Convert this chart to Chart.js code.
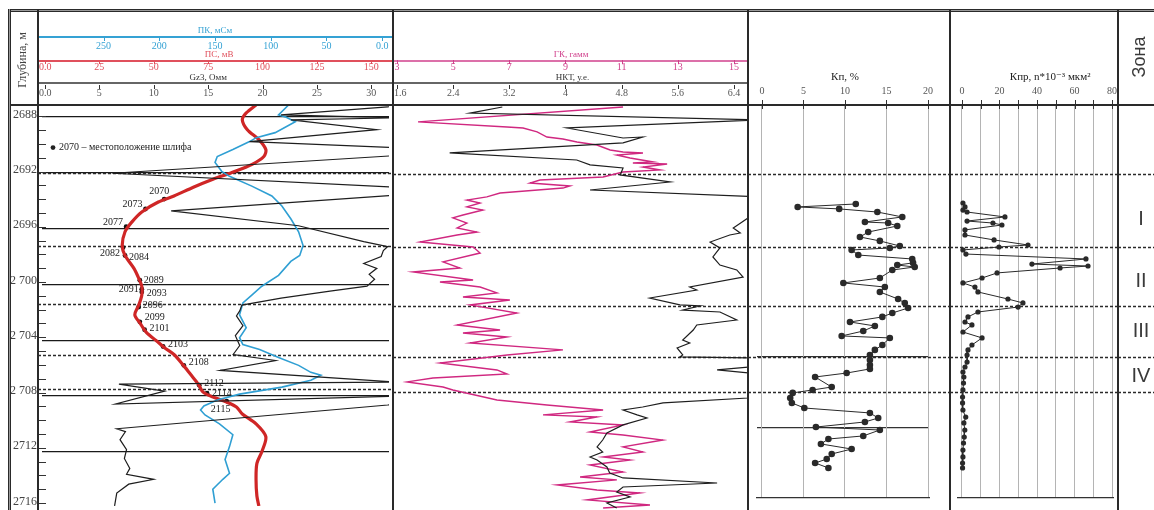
<!DOCTYPE html>
<html>
<head>
<meta charset="utf-8">
<title>Каротаж 2688-2716</title>
<script src="https://cdn.jsdelivr.net/npm/chart.js@4.4.1/dist/chart.umd.min.js"></script>
<style>
  body { margin: 0; background: #fff; }
  #page { position: relative; width: 1154px; height: 510px; overflow: hidden; }
  canvas { position: absolute; top: 0; }
  .rule { position: absolute; background: #2a2a2a; z-index: 5; }
</style>
</head>
<body>
<div id="page">
  <canvas id="track1" width="355" height="510" style="left:38px"></canvas>
  <canvas id="track2" width="355" height="510" style="left:393px"></canvas>
  <canvas id="track3" width="202" height="510" style="left:748px"></canvas>
  <canvas id="track4" width="168" height="510" style="left:950px"></canvas>
  <canvas id="zone" width="36" height="510" style="left:1118px"></canvas>
  <canvas id="depth" width="36" height="510" style="left:10px"></canvas>

  <!-- рамка -->
  <div class="rule" style="left:8px;top:9px;width:1146px;height:1px"></div>
  <div class="rule" style="left:8px;top:10px;width:1146px;height:1px;background:#9a9a9a"></div>
  <div class="rule" style="left:8px;top:11px;width:1146px;height:1px"></div>
  <div class="rule" style="left:8px;top:9px;width:1px;height:501px"></div>
  <div class="rule" style="left:9px;top:9px;width:1px;height:501px;background:#9a9a9a"></div>
  <div class="rule" style="left:10px;top:9px;width:1px;height:501px"></div>
  <div class="rule" style="left:10px;top:104px;width:1144px;height:2px"></div>
  <div class="rule" style="left:37px;top:10px;width:2px;height:500px"></div>
  <div class="rule" style="left:392px;top:10px;width:2px;height:500px"></div>
  <div class="rule" style="left:747px;top:10px;width:2px;height:500px"></div>
  <div class="rule" style="left:949px;top:10px;width:2px;height:500px"></div>
  <div class="rule" style="left:1117px;top:10px;width:2px;height:500px"></div>
</div>

<script>
// ---- данные ----
const DEPTH_LABELS = ["2688", "2692", "2696", "2 700", "2 704", "2 708", "2712", "2716"];
const DEPTH_MAJOR = [2688, 2692, 2696, 2700, 2704, 2708, 2712];
const DEPTH_TICKS = [];
for (let d = 2688; d <= 2716; d++) DEPTH_TICKS.push(d);

// границы зон (пунктир)
const ZONE_BOUNDS = [2692.05, 2697.25, 2701.4, 2705.05, 2707.5];
const ZONE_NAMES = ["I", "II", "III", "IV"];
const ZONE_LABEL_DEPTH = [2695.3, 2699.7, 2703.2, 2706.4];

// Gz3, Омм
const GZ_DEPTH = [2687.08, 2687.29, 2687.86, 2688.07, 2688.21, 2688.92, 2689.77, 2690.20, 2690.77, 2692.04,
  2693.04, 2693.60, 2694.74, 2695.80, 2696.94, 2697.29, 2697.57, 2698.00, 2698.50, 2698.85,
  2699.28, 2699.63, 2700.13, 2700.48, 2700.98, 2701.48, 2701.90, 2702.26, 2702.96, 2703.67,
  2704.38, 2705.02, 2705.45, 2706.16, 2707.00, 2707.15, 2707.65, 2708.57, 2708.00, 2708.57,
  2708.64, 2710.34, 2710.55, 2711.12, 2711.83, 2712.47, 2713.18, 2713.60, 2713.96, 2714.31,
  2714.95, 2715.87];
const GZ_VALUE = [32.3, 31.5, 21.7, 32.3, 22.6, 30.5, 18.8, 32.3, 32.3, 6.2,
  32.3, 32.3, 11.6, 23.3, 29.3, 31.5, 31.1, 30.9, 29.3, 30.5,
  29.8, 30.3, 29.6, 26.2, 21.7, 18.1, 17.9, 17.6, 18.2, 17.5,
  17.9, 17.3, 21.2, 16.1, 32.3, 6.8, 11.0, 6.5, 32.3, 32.3,
  31.5, 6.6, 7.4, 6.9, 7.5, 7.3, 7.8, 7.5, 10.0, 7.7,
  6.6, 6.4];

// ПК, мСм
const PK_DEPTH = [2687.15, 2687.86, 2688.00, 2688.35, 2689.13, 2689.49, 2689.77, 2690.34, 2690.84, 2691.26,
  2691.90, 2692.26, 2692.96, 2693.67, 2694.38, 2695.30, 2696.23, 2697.22, 2697.93, 2698.35,
  2699.35, 2700.13, 2700.77, 2701.33, 2702.18, 2703.11, 2703.82, 2704.31, 2704.67, 2705.23,
  2705.80, 2706.30, 2706.51, 2706.87, 2707.36, 2707.86, 2708.28, 2708.71, 2709.00, 2709.35,
  2709.99, 2710.77, 2711.62, 2712.54, 2713.53, 2713.96, 2714.67, 2715.66];
const PK_VALUE = [84, 93, 87, 78, 96, 113, 119, 134, 148, 150,
  144, 137, 117, 99, 90, 82, 75, 71, 74, 82,
  93, 108, 117, 125, 128, 122, 128, 125, 110, 93,
  75, 64, 55, 64, 90, 128, 148, 160, 163, 159,
  146, 134, 137, 141, 137, 143, 152, 150];

// ПС, мВ
const PS_DEPTH = [2687.15, 2687.72, 2688.21, 2688.92, 2689.63, 2690.34, 2690.84, 2691.40, 2691.97, 2692.47,
  2693.04, 2693.67, 2694.10, 2694.81, 2695.52, 2696.23, 2697.22, 2697.93, 2698.85, 2699.56,
  2700.13, 2700.77, 2701.48, 2702.18, 2702.75, 2703.46, 2704.03, 2704.52, 2705.02, 2705.73,
  2706.44, 2707.15, 2707.72, 2708.07, 2708.43, 2708.78, 2709.28, 2709.99, 2710.91, 2711.97,
  2712.82, 2713.96, 2715.16, 2715.87];
const PS_VALUE = [97, 92.5, 90.7, 93, 98.3, 101.5, 100.6, 95.2, 86.2, 77.2,
  68.2, 59.3, 52.1, 44.5, 40, 36.8, 35.5, 36.8, 40.9, 43.1,
  44.5, 44.5, 43.1, 41.3, 43.6, 46.7, 51.2, 54.8, 59.3, 63.3,
  66.9, 70.5, 72.7, 77.2, 83.5, 88, 90.7, 97, 101.5, 99.7,
  97.4, 97, 97.4, 98.3];

// шлифы
const SAMPLE_ID = ["2070", "2073", "2077", "2082", "2084", "2089", "2091", "2093",
  "2096", "2099", "2101", "2103", "2108", "2112", "2114", "2115"];
const SAMPLE_DEPTH = [2693.89, 2694.60, 2695.87, 2697.36, 2697.93, 2699.70, 2700.34, 2700.55,
  2701.62, 2702.68, 2703.25, 2704.45, 2705.80, 2707.22, 2707.79, 2708.36];
const SAMPLE_PS = [54.8, 46.2, 37.3, 35.9, 36.8, 43.6, 44.5, 44.5,
  43.1, 43.6, 45.8, 54.3, 63.8, 70.9, 74.5, 83.5];
const LEGEND_TEXT = "2070 – местоположение шлифа";

// НКТ, у.е.
const NKT_DEPTH = [2687.29, 2687.72, 2688.21, 2688.78, 2689.49, 2689.42, 2689.84, 2690.55, 2691.05, 2691.40,
  2691.62, 2692.11, 2692.61, 2693.18, 2693.67, 2694.60, 2695.87, 2696.23, 2696.37, 2696.87,
  2697.29, 2697.93, 2698.50, 2698.85, 2699.35, 2700.06, 2700.27, 2700.84, 2701.33, 2701.40,
  2701.69, 2701.83, 2702.40, 2702.75, 2703.11, 2703.82, 2704.03, 2704.38, 2704.88, 2705.02,
  2705.09, 2705.66, 2705.94, 2706.23, 2707.79, 2707.93, 2708.28, 2708.57, 2708.78, 2709.13,
  2709.35, 2709.84, 2710.41, 2710.91, 2711.40, 2711.76, 2712.11, 2712.33, 2712.82, 2713.25,
  2713.60, 2713.96, 2714.24, 2714.60, 2714.95, 2715.38, 2715.73];
const NKT_VALUE = [3.10, 2.64, 6.77, 4.02, 4.82, 5.10, 4.82, 2.35, 4.16, 4.35,
  4.82, 4.78, 5.49, 4.35, 6.77, 6.77, 6.39, 6.49, 6.34, 6.06,
  6.20, 6.10, 6.20, 6.44, 6.53, 5.77, 5.87, 5.20, 5.63, 5.92,
  5.67, 6.20, 6.44, 5.87, 5.82, 5.67, 5.77, 5.59, 5.67, 5.63,
  6.77, 6.77, 6.16, 6.77, 6.77, 6.60, 5.39, 5.10, 4.82, 5.02,
  5.16, 4.82, 4.59, 4.53, 4.45, 4.53, 4.35, 4.45, 4.59, 4.63,
  4.82, 6.16, 4.82, 4.73, 4.92, 4.59, 4.73];

// ГК
const GK_DEPTH = [2687.29, 2688.35, 2688.71, 2688.78, 2689.06, 2689.42, 2689.56, 2689.77, 2689.99, 2690.34,
  2690.48, 2690.55, 2690.70, 2690.91, 2691.19, 2691.26, 2691.33, 2691.55, 2691.76, 2691.90,
  2692.26, 2692.47, 2692.68, 2692.89, 2693.04, 2693.39, 2693.67, 2693.89, 2694.10, 2694.38,
  2694.60, 2694.95, 2695.16, 2695.52, 2695.87, 2696.16, 2696.37, 2696.87, 2697.22, 2697.65,
  2698.28, 2698.71, 2698.99, 2699.56, 2699.70, 2700.06, 2700.48, 2700.77, 2700.98, 2701.33,
  2701.90, 2702.75, 2703.11, 2703.32, 2703.60, 2704.03, 2704.52, 2704.88, 2705.45, 2705.94,
  2706.23, 2706.51, 2706.79, 2707.15, 2707.36, 2708.07, 2708.43, 2708.78, 2709.13, 2709.28,
  2709.63, 2709.84, 2710.34, 2710.55, 2710.91, 2711.40, 2711.76, 2712.11, 2712.33, 2712.68,
  2713.18, 2713.53, 2713.74, 2714.10, 2714.45, 2714.67, 2715.16, 2715.52, 2715.73];
const GK_VALUE = [11.05, 3.75, 6.92, 7.49, 7.99, 8.34, 8.91, 9.41, 10.12, 10.59,
  11.05, 11.76, 10.83, 11.30, 12.12, 11.40, 12.62, 11.76, 12.37, 11.05,
  10.34, 8.09, 7.74, 9.16, 8.91, 6.67, 6.20, 5.49, 5.96, 5.49,
  6.06, 5.35, 4.99, 5.49, 5.14, 5.85, 5.14, 3.82, 5.71, 5.96,
  4.64, 5.24, 3.57, 5.71, 4.53, 5.96, 6.56, 5.35, 7.02, 5.60,
  7.27, 5.14, 6.67, 5.35, 6.92, 5.60, 8.91, 6.92, 4.53, 6.56,
  6.92, 4.28, 3.36, 4.64, 4.99, 6.56, 8.34, 10.34, 8.20, 10.12,
  9.16, 11.05, 9.87, 11.05, 12.47, 11.05, 11.76, 10.34, 11.30, 9.87,
  11.05, 9.52, 10.83, 8.70, 10.12, 11.65, 9.77, 12.01, 10.34];

// Кп, %
const KP_DEPTH = [2694.17, 2694.38, 2694.52, 2694.74, 2695.09, 2695.45, 2695.52, 2695.73, 2696.16, 2696.51,
  2696.79, 2697.15, 2697.29, 2697.43, 2697.79, 2698.07, 2698.35, 2698.50, 2698.64, 2698.85,
  2699.42, 2699.77, 2700.06, 2700.41, 2700.91, 2701.19, 2701.55, 2701.90, 2702.18, 2702.54,
  2702.82, 2703.18, 2703.53, 2703.67, 2704.17, 2704.52, 2704.88, 2705.23, 2705.59, 2705.87,
  2706.16, 2706.44, 2707.15, 2707.36, 2707.57, 2707.93, 2708.28, 2708.64, 2708.99, 2709.35,
  2709.63, 2709.99, 2710.20, 2710.62, 2710.84, 2711.19, 2711.55, 2711.90, 2712.26, 2712.54,
  2712.89];
const KP_VALUE = [11.3, 4.3, 9.3, 13.9, 16.9, 12.4, 15.2, 16.3, 12.8, 11.8,
  14.2, 16.6, 15.4, 10.8, 11.6, 18.1, 18.2, 16.3, 18.4, 15.7,
  14.2, 9.8, 14.8, 14.2, 16.4, 17.2, 17.6, 15.7, 14.5, 10.6,
  13.6, 12.2, 9.6, 15.4, 14.5, 13.6, 13.0, 13.0, 13.0, 13.0,
  10.2, 6.4, 8.4, 6.1, 3.7, 3.4, 3.6, 5.1, 13.0, 14.0,
  12.4, 6.5, 14.2, 12.2, 8.0, 7.1, 10.8, 8.4, 7.8, 6.4,
  8.0];
const KP_INTERVALS = [2705, 2710];

// Кпр, n*10^-3 мкм²
const KPR_DEPTH = [2694.10, 2694.38, 2694.60, 2694.74, 2695.09, 2695.38, 2695.52, 2695.66, 2696.01, 2696.37,
  2696.72, 2697.08, 2697.22, 2697.43, 2697.72, 2698.07, 2698.43, 2698.57, 2698.71, 2699.06,
  2699.42, 2699.77, 2700.06, 2700.41, 2700.91, 2701.19, 2701.48, 2701.83, 2702.18, 2702.54,
  2702.75, 2703.25, 2703.67, 2704.17, 2704.52, 2704.88, 2705.38, 2705.73, 2706.09, 2706.44,
  2706.87, 2707.36, 2707.86, 2708.28, 2708.78, 2709.28, 2709.70, 2710.20, 2710.70, 2711.12,
  2711.62, 2712.11, 2712.54, 2712.89];
const KPR_VALUE = [0.5, 1.6, 0.5, 2.7, 22.9, 2.7, 16.5, 21.3, 1.6, 1.6,
  17.1, 35.2, 19.7, 0.5, 2.1, 66.1, 37.3, 67.2, 52.3, 18.7,
  10.7, 0.5, 6.9, 8.5, 24.5, 32.5, 29.9, 8.5, 3.2, 1.6,
  5.3, 0.5, 10.7, 5.3, 3.2, 2.7, 2.7, 1.6, 0.5, 1.0,
  0.8, 0.5, 0.3, 0.3, 0.5, 2.0, 1.0, 1.5, 1.2, 0.8,
  0.5, 0.5, 0.3, 0.3];

// шкалы заголовков
const PK_TICKS = [250, 200, 150, 100, 50, 0];
const PK_LABELS = ["250", "200", "150", "100", "50", "0.0"];
const PS_TICKS = [0, 25, 50, 75, 100, 125, 150];
const PS_LABELS = ["0.0", "25", "50", "75", "100", "125", "150"];
const GZ_TICKS = [0, 5, 10, 15, 20, 25, 30];
const GZ_LABELS = ["0.0", "5", "10", "15", "20", "25", "30"];
const GK_TICKS = [3, 5, 7, 9, 11, 13, 15];
const GK_LABELS = ["3", "5", "7", "9", "11", "13", "15"];
const NKT_TICKS = [1.6, 2.4, 3.2, 4, 4.8, 5.6, 6.4];
const NKT_LABELS = ["1.6", "2.4", "3.2", "4", "4.8", "5.6", "6.4"];
const KP_TICKS = [0, 5, 10, 15, 20];
const KP_LABELS = ["0", "5", "10", "15", "20"];
const KPR_GRID = [0, 10, 20, 30, 40, 50, 60, 70, 80];
const KPR_TICKS = [0, 20, 40, 60, 80];
const KPR_LABELS = ["0", "20", "40", "60", "80"];

// ---- раскладка ----
const HEAD = 105, H = 510, DEPTH_TOP = 2687.15, PX_PER_M = 14.1;
const SERIF = '"Liberation Serif", "DejaVu Serif", serif';

Chart.defaults.font.family = SERIF;
Chart.defaults.animation = false;

const pts = (depth, value) => depth.map((d, i) => ({ x: value[i], y: d }));

function depthScale(bottomPad, extra) {
  return Object.assign({
    type: "linear", axis: "y", reverse: true,
    min: DEPTH_TOP, max: DEPTH_TOP + (H - bottomPad - HEAD) / PX_PER_M,
    display: false
  }, extra || {});
}

function valueScale(min, max, extra) {
  return Object.assign({ type: "linear", axis: "x", min, max, display: false }, extra || {});
}

function gridOnly(values, color, width) {
  return {
    display: true,
    ticks: { display: false },
    border: { display: false },
    grid: { color, lineWidth: width, drawTicks: false },
    afterBuildTicks: (s) => { s.ticks = values.map((v) => ({ value: v })); }
  };
}

function options(padding, scales, pluginOpts) {
  return {
    responsive: false,
    animation: false,
    events: [],
    layout: { padding },
    plugins: Object.assign({ legend: { display: false }, tooltip: { enabled: false } }, pluginOpts || {}),
    scales
  };
}

function curve(data, axis, color, width, extra) {
  return Object.assign({
    data, xAxisID: axis, showLine: true, borderColor: color, borderWidth: width,
    pointRadius: 0, tension: 0
  }, extra || {});
}

// ---- плагины ----
const zoneLines = {
  id: "zoneLines",
  beforeDatasetsDraw(chart) {
    const y = chart.scales.y, ctx = chart.ctx;
    ctx.save();
    ctx.strokeStyle = "#2a2a2a";
    ctx.lineWidth = 1.6;
    ctx.setLineDash([3, 2]);
    ZONE_BOUNDS.forEach((d) => {
      const py = Math.round(y.getPixelForValue(d)) + 0.5;
      ctx.beginPath();
      ctx.moveTo(0, py);
      ctx.lineTo(chart.width, py);
      ctx.stroke();
    });
    ctx.restore();
  }
};

const headerAxes = {
  id: "headerAxes",
  afterDraw(chart, args, opts) {
    const ctx = chart.ctx;
    (opts.axes || []).forEach((a) => {
      const sc = chart.scales[a.scale];
      ctx.save();
      ctx.strokeStyle = a.color;
      if (a.lineY !== undefined) {
        ctx.lineWidth = a.lineWidth || 1.5;
        ctx.beginPath();
        ctx.moveTo(0, a.lineY);
        ctx.lineTo(chart.width, a.lineY);
        ctx.stroke();
      }
      ctx.lineWidth = 1;
      (a.marks || a.ticks).forEach((v) => {
        const x = Math.round(sc.getPixelForValue(v)) + 0.5;
        ctx.beginPath();
        ctx.moveTo(x, a.markTop);
        ctx.lineTo(x, a.markBottom);
        ctx.stroke();
      });
      ctx.fillStyle = a.textColor || a.color;
      ctx.font = "10px " + SERIF;
      ctx.textAlign = "center";
      ctx.textBaseline = "middle";
      a.ticks.forEach((v, i) => {
        const text = a.labels[i];
        const w = ctx.measureText(text).width;
        let x = sc.getPixelForValue(v);
        x = Math.max(w / 2 + 1, Math.min(chart.width - w / 2 - 1, x));
        ctx.fillText(text, x, a.labelY);
      });
      ctx.font = a.titleFont || "9px " + SERIF;
      ctx.fillStyle = a.titleColor || a.textColor || a.color;
      ctx.fillText(a.title, sc.getPixelForValue(a.titleAt), a.titleY);
      ctx.restore();
    });
  }
};

// положение подписей шлифов: [выравнивание, dx, dy]
const LABEL_PLACE = [
  ["center", -5, -8], ["right", -3, -5], ["right", -3, -4], ["right", -3, 6],
  ["left", 4, 2], ["left", 4, 0], ["right", -3, 0], ["left", 5, 1],
  ["left", 4, -2], ["left", 5, -4], ["left", 5, -1], ["left", 5, -2],
  ["left", 5, -3], ["left", 5, -2], ["left", 5, 0], ["center", -6, 8]
];

const sampleLabels = {
  id: "sampleLabels",
  afterDatasetsDraw(chart) {
    const ctx = chart.ctx;
    ctx.save();
    ctx.font = "10px " + SERIF;
    ctx.fillStyle = "#222";
    ctx.textBaseline = "middle";
    chart.data.datasets.forEach((ds, i) => {
      if (!ds.sampleLabels) return;
      chart.getDatasetMeta(i).data.forEach((pt, j) => {
        const [align, dx, dy] = LABEL_PLACE[j];
        ctx.textAlign = align;
        ctx.fillText(ds.sampleLabels[j], pt.x + dx, pt.y + dy);
      });
    });
    // условное обозначение
    const ly = chart.scales.y.getPixelForValue(2690.2);
    ctx.beginPath();
    ctx.arc(15, ly, 2.4, 0, Math.PI * 2);
    ctx.fill();
    ctx.textAlign = "left";
    ctx.fillText(LEGEND_TEXT, 21, ly);
    ctx.restore();
  }
};

const depthTitle = {
  id: "depthTitle",
  afterDraw(chart) {
    const ctx = chart.ctx;
    ctx.save();
    ctx.translate(13, 60);
    ctx.rotate(-Math.PI / 2);
    ctx.font = "12px " + SERIF;
    ctx.fillStyle = "#444";
    ctx.textAlign = "center";
    ctx.textBaseline = "middle";
    ctx.fillText("Глубина, м", 0, 0);
    ctx.restore();
  }
};

const zoneColumn = {
  id: "zoneColumn",
  afterDraw(chart) {
    const ctx = chart.ctx, y = chart.scales.y;
    ctx.save();
    ctx.fillStyle = "#3a3a3a";
    ctx.textAlign = "center";
    ctx.textBaseline = "middle";
    ctx.font = '20px "Liberation Sans", Arial, sans-serif';
    ZONE_NAMES.forEach((n, i) => ctx.fillText(n, 23, y.getPixelForValue(ZONE_LABEL_DEPTH[i])));
    ctx.translate(22, 57);
    ctx.rotate(-Math.PI / 2);
    ctx.font = '18px "Liberation Sans", Arial, sans-serif';
    ctx.fillText("Зона", 0, 0);
    ctx.restore();
  }
};

// ---- трек 1: Gz3, ПС, ПК ----
new Chart(document.getElementById("track1"), {
  type: "scatter",
  data: {
    datasets: [
      curve(pts(GZ_DEPTH, GZ_VALUE), "x", "#1e1e1e", 1.2),
      curve(pts(PK_DEPTH, PK_VALUE), "xPk", "#2f9fd3", 1.6),
      curve(pts(PS_DEPTH, PS_VALUE), "xPs", "#cf2626", 3.2, { tension: 0.3 }),
      {
        data: pts(SAMPLE_DEPTH, SAMPLE_PS), xAxisID: "xPs", showLine: false,
        pointRadius: 2.4, pointBackgroundColor: "#111", pointBorderWidth: 0,
        sampleLabels: SAMPLE_ID
      }
    ]
  },
  options: options({ top: HEAD }, {
    y: depthScale(0, gridOnly(DEPTH_MAJOR, "#1a1a1a", 1.3)),
    x: valueScale(-0.27, 31.62),
    xPs: valueScale(-1.35, 158.1),
    xPk: valueScale(-6.14, 305.3, { reverse: true })
  }, {
    headerAxes: {
      axes: [
        { scale: "xPk", lineY: 37, lineWidth: 2, color: "#35a2d4", title: "ПК, мСм", titleAt: 150, titleY: 31,
          ticks: PK_TICKS, labels: PK_LABELS, labelY: 46, markTop: 36, markBottom: 41 },
        { scale: "xPs", lineY: 61, lineWidth: 2, color: "#e0505c", title: "ПС, мВ", titleAt: 80, titleY: 55,
          ticks: PS_TICKS, labels: PS_LABELS, labelY: 67, markTop: 60, markBottom: 64 },
        { scale: "x", lineY: 83, lineWidth: 1.5, color: "#333", textColor: "#555", titleColor: "#333",
          title: "Gz3, Омм", titleAt: 15, titleY: 78, ticks: GZ_TICKS, labels: GZ_LABELS,
          labelY: 93, markTop: 85, markBottom: 89 }
      ]
    }
  }),
  plugins: [zoneLines, headerAxes, sampleLabels]
});

// ---- трек 2: ГК, НКТ ----
new Chart(document.getElementById("track2"), {
  type: "scatter",
  data: {
    datasets: [
      curve(pts(NKT_DEPTH, NKT_VALUE), "x", "#1e1e1e", 1.2),
      curve(pts(GK_DEPTH, GK_VALUE), "xGk", "#d02880", 1.4)
    ]
  },
  options: options({ top: HEAD }, {
    y: depthScale(0),
    x: valueScale(1.543, 6.6),
    xGk: valueScale(2.858, 15.5)
  }, {
    headerAxes: {
      axes: [
        { scale: "xGk", lineY: 61, lineWidth: 1.6, color: "#d0408c", title: "ГК, гамм", titleAt: 9.2, titleY: 55,
          ticks: GK_TICKS, labels: GK_LABELS, labelY: 67, markTop: 60, markBottom: 64 },
        { scale: "x", lineY: 83, lineWidth: 1.5, color: "#333", textColor: "#555", titleColor: "#333",
          title: "НКТ, у.е.", titleAt: 4.1, titleY: 78, ticks: NKT_TICKS, labels: NKT_LABELS,
          labelY: 93, markTop: 85, markBottom: 89 }
      ]
    }
  }),
  plugins: [zoneLines, headerAxes]
});

// ---- трек 3: Кп ----
new Chart(document.getElementById("track3"), {
  type: "scatter",
  data: {
    datasets: [
      curve(pts(KP_DEPTH, KP_VALUE), "x", "#2a2a2a", 1, {
        pointRadius: 3.3, pointBackgroundColor: "#2a2a2a", pointBorderWidth: 0
      })
    ]
  },
  options: options({ top: HEAD, left: 9, right: 21, bottom: 12 }, {
    y: depthScale(12, gridOnly(KP_INTERVALS, "#333", 1.2)),
    x: valueScale(-0.6, 20.12, Object.assign(gridOnly(KP_TICKS, "#b4b4b4", 1), {
      position: "bottom",
      border: { display: true, color: "#333", width: 1.3 }
    }))
  }, {
    headerAxes: {
      axes: [
        { scale: "x", color: "#333", textColor: "#555", titleColor: "#222", title: "Кп, %", titleAt: 10,
          titleY: 77, titleFont: "11px " + SERIF, ticks: KP_TICKS, labels: KP_LABELS,
          labelY: 91, markTop: 100, markBottom: 109 }
      ]
    }
  }),
  plugins: [zoneLines, headerAxes]
});

// ---- трек 4: Кпр ----
new Chart(document.getElementById("track4"), {
  type: "scatter",
  data: {
    datasets: [
      curve(pts(KPR_DEPTH, KPR_VALUE), "x", "#2a2a2a", 1, {
        pointRadius: 2.6, pointBackgroundColor: "#2a2a2a", pointBorderWidth: 0
      })
    ]
  },
  options: options({ top: HEAD, left: 8, right: 5, bottom: 12 }, {
    y: depthScale(12),
    x: valueScale(-2.13, 80.53, Object.assign(gridOnly(KPR_GRID, "#b4b4b4", 1), {
      position: "bottom",
      border: { display: true, color: "#333", width: 1.3 }
    }))
  }, {
    headerAxes: {
      axes: [
        { scale: "x", color: "#333", textColor: "#555", titleColor: "#222",
          title: "Кпр, n*10⁻³ мкм²", titleAt: 47, titleY: 77, titleFont: "11px " + SERIF,
          ticks: KPR_TICKS, labels: KPR_LABELS, marks: KPR_GRID,
          labelY: 91, markTop: 100, markBottom: 109 }
      ]
    }
  }),
  plugins: [zoneLines, headerAxes]
});

// ---- зона ----
new Chart(document.getElementById("zone"), {
  type: "scatter",
  data: { datasets: [] },
  options: options({ top: HEAD }, {
    y: depthScale(0),
    x: valueScale(0, 1)
  }),
  plugins: [zoneLines, zoneColumn]
});

// ---- глубина ----
new Chart(document.getElementById("depth"), {
  type: "scatter",
  data: { datasets: [] },
  options: options({ top: HEAD }, {
    x: valueScale(0, 1),
    y: depthScale(0, {
      display: true,
      position: "left",
      afterFit: (s) => { s.width = 28; },
      afterBuildTicks: (s) => { s.ticks = DEPTH_TICKS.map((v) => ({ value: v })); },
      ticks: {
        autoSkip: false,
        padding: 1,
        labelOffset: -2,
        color: "#444",
        font: { size: 12, family: SERIF },
        callback: (v) => (v % 4 === 0 ? DEPTH_LABELS[(v - 2688) / 4] : "")
      },
      grid: { color: "#333", lineWidth: 1, drawTicks: false },
      border: { display: false }
    })
  }),
  plugins: [depthTitle]
});
</script>
</body>
</html>
